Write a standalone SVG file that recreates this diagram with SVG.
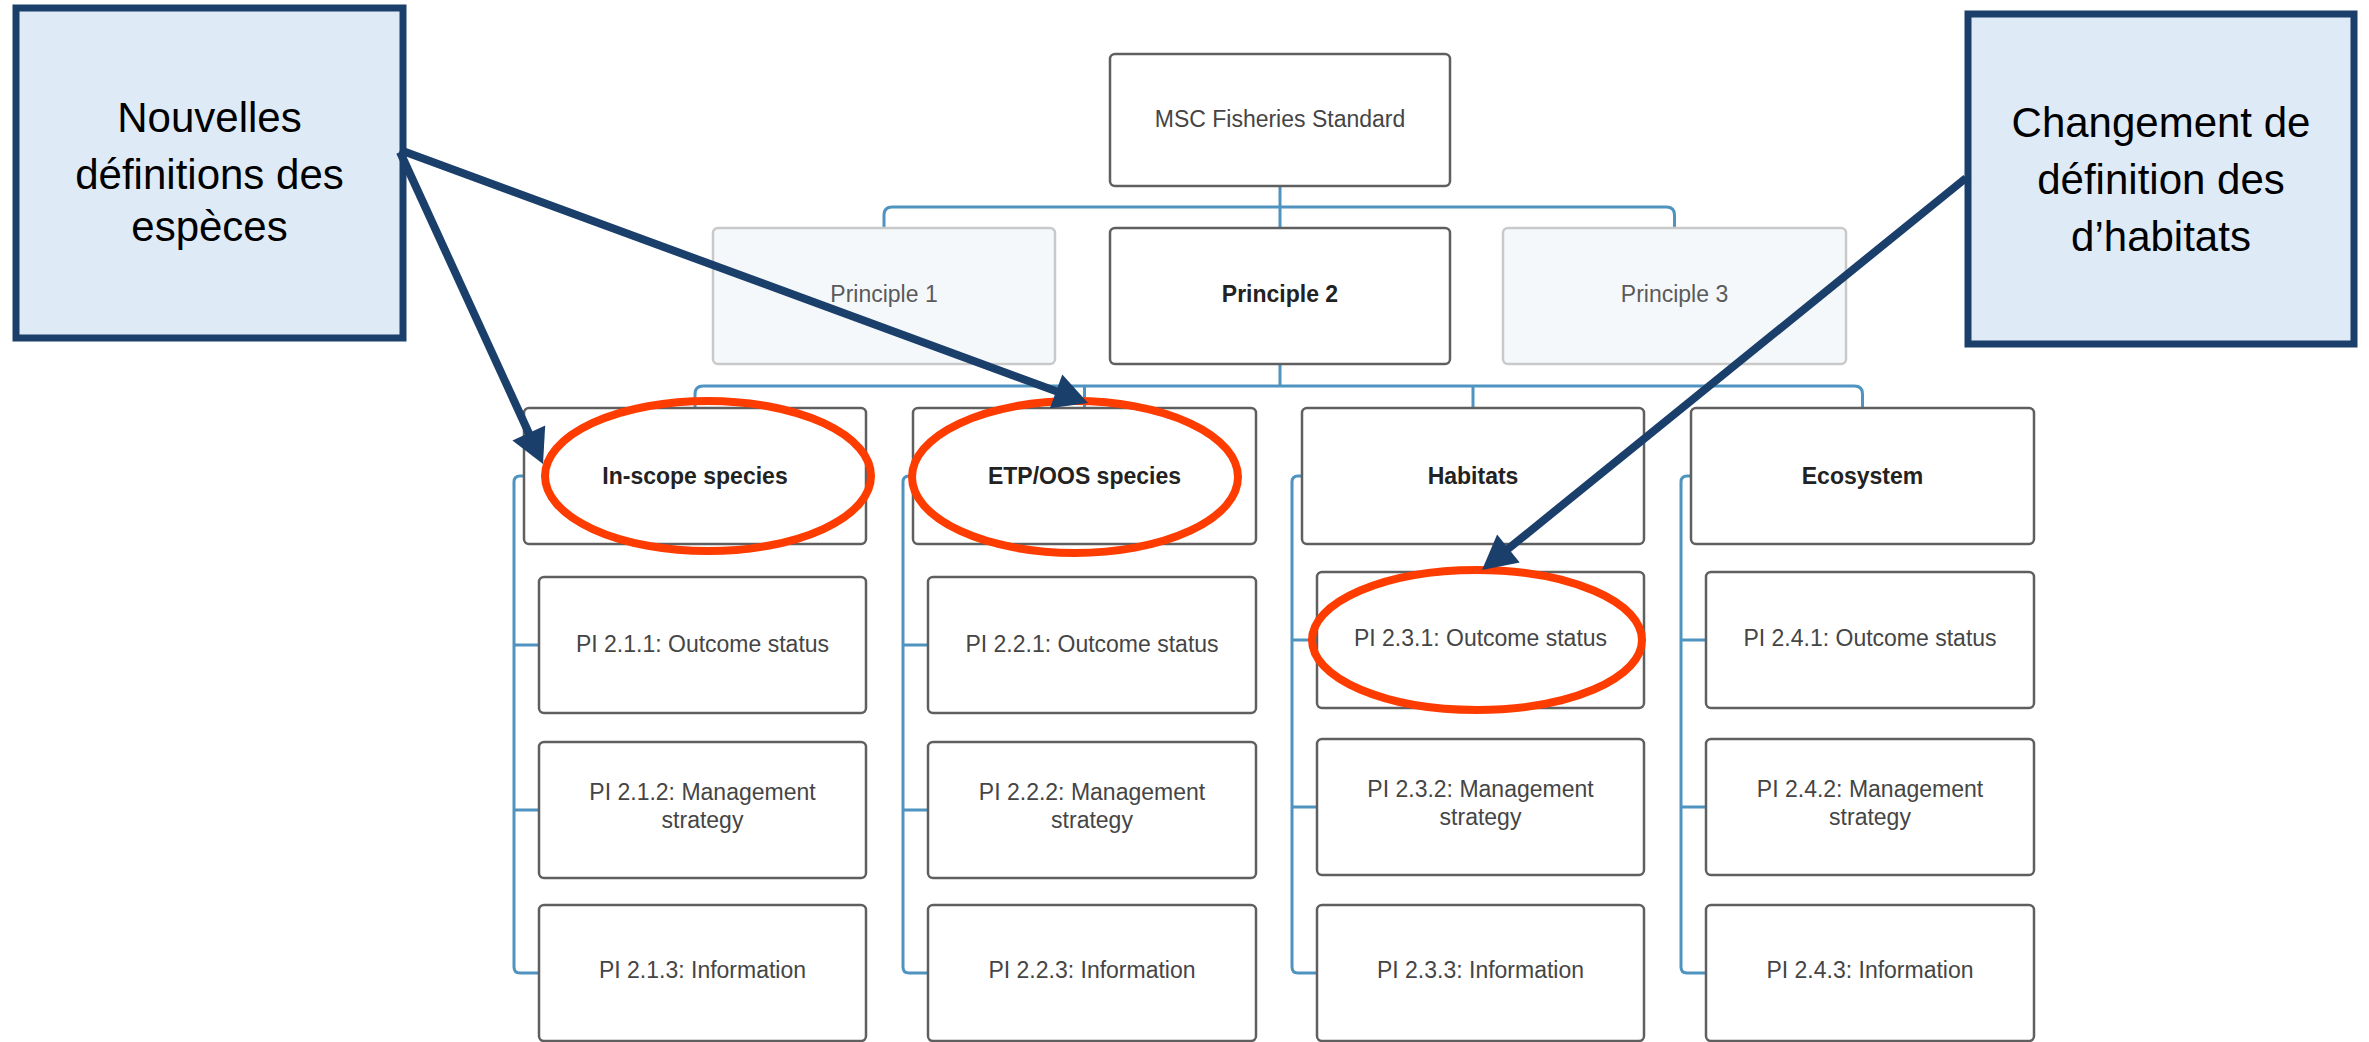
<svg xmlns="http://www.w3.org/2000/svg" width="2369" height="1042" viewBox="0 0 2369 1042">
<style>
.bx{fill:#ffffff;stroke:#5f5f5f;stroke-width:2.5}
.bxl{fill:#f5f8fa;stroke:#c9c9c9;stroke-width:2.5}
.t{font-family:"Liberation Sans",Arial,sans-serif;font-size:23px;fill:#454545;text-anchor:middle}
.tl{font-family:"Liberation Sans",Arial,sans-serif;font-size:23px;fill:#5a5a5a;text-anchor:middle}
.tb{font-family:"Liberation Sans",Arial,sans-serif;font-size:23px;font-weight:bold;fill:#222222;text-anchor:middle}
.cn{fill:none;stroke:#4f94c0;stroke-width:3}
.call{fill:#deeaf6;stroke:#1b3f6b;stroke-width:7}
.ct{font-family:"Liberation Sans",Arial,sans-serif;font-size:42px;fill:#000000;text-anchor:middle}
.ov{fill:none;stroke:#ff3c00;stroke-width:8}
.ar{fill:none;stroke:#1b3f6b;stroke-width:8}
.ah{fill:#1b3f6b}
</style>
<rect width="2369" height="1042" fill="#ffffff"/>
<g id="connectors">
<path class="cn" d="M1280 186 V228"/>
<path class="cn" d="M884 228 V215 Q884 207 892 207 H1666.5 Q1674.5 207 1674.5 215 V228"/>
<path class="cn" d="M1280 364 V386"/>
<path class="cn" d="M695 408 V394 Q695 386 703 386 H1854.5 Q1862.5 386 1862.5 394 V408"/>
<path class="cn" d="M1084.5 386 V408 M1473 386 V408"/>
<path class="cn" d="M524 476 H520 Q514 476 514 482 V967 Q514 973 520 973 H539 M514 645 H539 M514 810 H539"/>
<path class="cn" d="M913 476 H909 Q903 476 903 482 V967 Q903 973 909 973 H928 M903 645 H928 M903 810 H928"/>
<path class="cn" d="M1302 476 H1298 Q1292 476 1292 482 V967 Q1292 973 1298 973 H1317 M1292 640 H1317 M1292 807 H1317"/>
<path class="cn" d="M1691 476 H1687 Q1681 476 1681 482 V967 Q1681 973 1687 973 H1706 M1681 640 H1706 M1681 807 H1706"/>
</g>
<g id="msc"><rect class="bx" x="1110" y="54" width="340" height="132" rx="5"/><text class="t" x="1280" y="127">MSC Fisheries Standard</text></g>
<g id="p1"><rect class="bxl" x="713" y="228" width="342" height="136" rx="5"/><text class="tl" x="884" y="302">Principle 1</text></g>
<g id="p2"><rect class="bx" x="1110" y="228" width="340" height="136" rx="5"/><text class="tb" x="1280" y="302">Principle 2</text></g>
<g id="p3"><rect class="bxl" x="1503" y="228" width="343" height="136" rx="5"/><text class="tl" x="1674.5" y="302">Principle 3</text></g>

<g id="inscope"><rect class="bx" x="524" y="408" width="342" height="136" rx="5"/><text class="tb" x="695" y="484">In-scope species</text></g>
<g id="etp"><rect class="bx" x="913" y="408" width="343" height="136" rx="5"/><text class="tb" x="1084.5" y="484">ETP/OOS species</text></g>
<g id="habitats"><rect class="bx" x="1302" y="408" width="342" height="136" rx="5"/><text class="tb" x="1473" y="484">Habitats</text></g>
<g id="ecosystem"><rect class="bx" x="1691" y="408" width="343" height="136" rx="5"/><text class="tb" x="1862.5" y="484">Ecosystem</text></g>

<g id="pi211"><rect class="bx" x="539" y="577" width="327" height="136" rx="5"/><text class="t" x="702.5" y="652">PI 2.1.1: Outcome status</text></g>
<g id="pi212"><rect class="bx" x="539" y="742" width="327" height="136" rx="5"/><text class="t" x="702.5" y="800">PI 2.1.2: Management</text><text class="t" x="702.5" y="828">strategy</text></g>
<g id="pi213"><rect class="bx" x="539" y="905" width="327" height="136" rx="5"/><text class="t" x="702.5" y="978">PI 2.1.3: Information</text></g>

<g id="pi221"><rect class="bx" x="928" y="577" width="328" height="136" rx="5"/><text class="t" x="1092" y="652">PI 2.2.1: Outcome status</text></g>
<g id="pi222"><rect class="bx" x="928" y="742" width="328" height="136" rx="5"/><text class="t" x="1092" y="800">PI 2.2.2: Management</text><text class="t" x="1092" y="828">strategy</text></g>
<g id="pi223"><rect class="bx" x="928" y="905" width="328" height="136" rx="5"/><text class="t" x="1092" y="978">PI 2.2.3: Information</text></g>

<g id="pi231"><rect class="bx" x="1317" y="572" width="327" height="136" rx="5"/><text class="t" x="1480.5" y="646">PI 2.3.1: Outcome status</text></g>
<g id="pi232"><rect class="bx" x="1317" y="739" width="327" height="136" rx="5"/><text class="t" x="1480.5" y="797">PI 2.3.2: Management</text><text class="t" x="1480.5" y="825">strategy</text></g>
<g id="pi233"><rect class="bx" x="1317" y="905" width="327" height="136" rx="5"/><text class="t" x="1480.5" y="978">PI 2.3.3: Information</text></g>

<g id="pi241"><rect class="bx" x="1706" y="572" width="328" height="136" rx="5"/><text class="t" x="1870" y="646">PI 2.4.1: Outcome status</text></g>
<g id="pi242"><rect class="bx" x="1706" y="739" width="328" height="136" rx="5"/><text class="t" x="1870" y="797">PI 2.4.2: Management</text><text class="t" x="1870" y="825">strategy</text></g>
<g id="pi243"><rect class="bx" x="1706" y="905" width="328" height="136" rx="5"/><text class="t" x="1870" y="978">PI 2.4.3: Information</text></g>

<g id="highlights">
<ellipse class="ov" cx="708" cy="476" rx="163" ry="75"/>
<ellipse class="ov" cx="1075" cy="477" rx="163" ry="76"/>
<ellipse class="ov" cx="1477" cy="640" rx="165" ry="70"/>
</g>

<g id="callout-species"><rect class="call" x="16" y="8" width="387" height="330"/><text class="ct" x="209.5" y="132">Nouvelles</text><text class="ct" x="209.5" y="189">définitions des</text><text class="ct" x="209.5" y="241">espèces</text></g>
<g id="callout-habitats"><rect class="call" x="1968" y="14" width="386" height="330"/><text class="ct" x="2161" y="137">Changement de</text><text class="ct" x="2161" y="194">définition des</text><text class="ct" x="2161" y="251">d’habitats</text></g>

<g id="arrows">
<path class="ar" d="M400 152 L531.3 438.5"/>
<polygon class="ah" points="543,464 512.4,440.6 545.2,425.6"/>
<path class="ar" d="M400 150 L1061.7 393.3"/>
<polygon class="ah" points="1088,403 1049.9,408.2 1062.3,374.4"/>
<path class="ar" d="M1966 178 L1503.8 552.4"/>
<polygon class="ah" points="1482,570 1497.1,534.6 1519.7,562.6"/>
</g>
</svg>
